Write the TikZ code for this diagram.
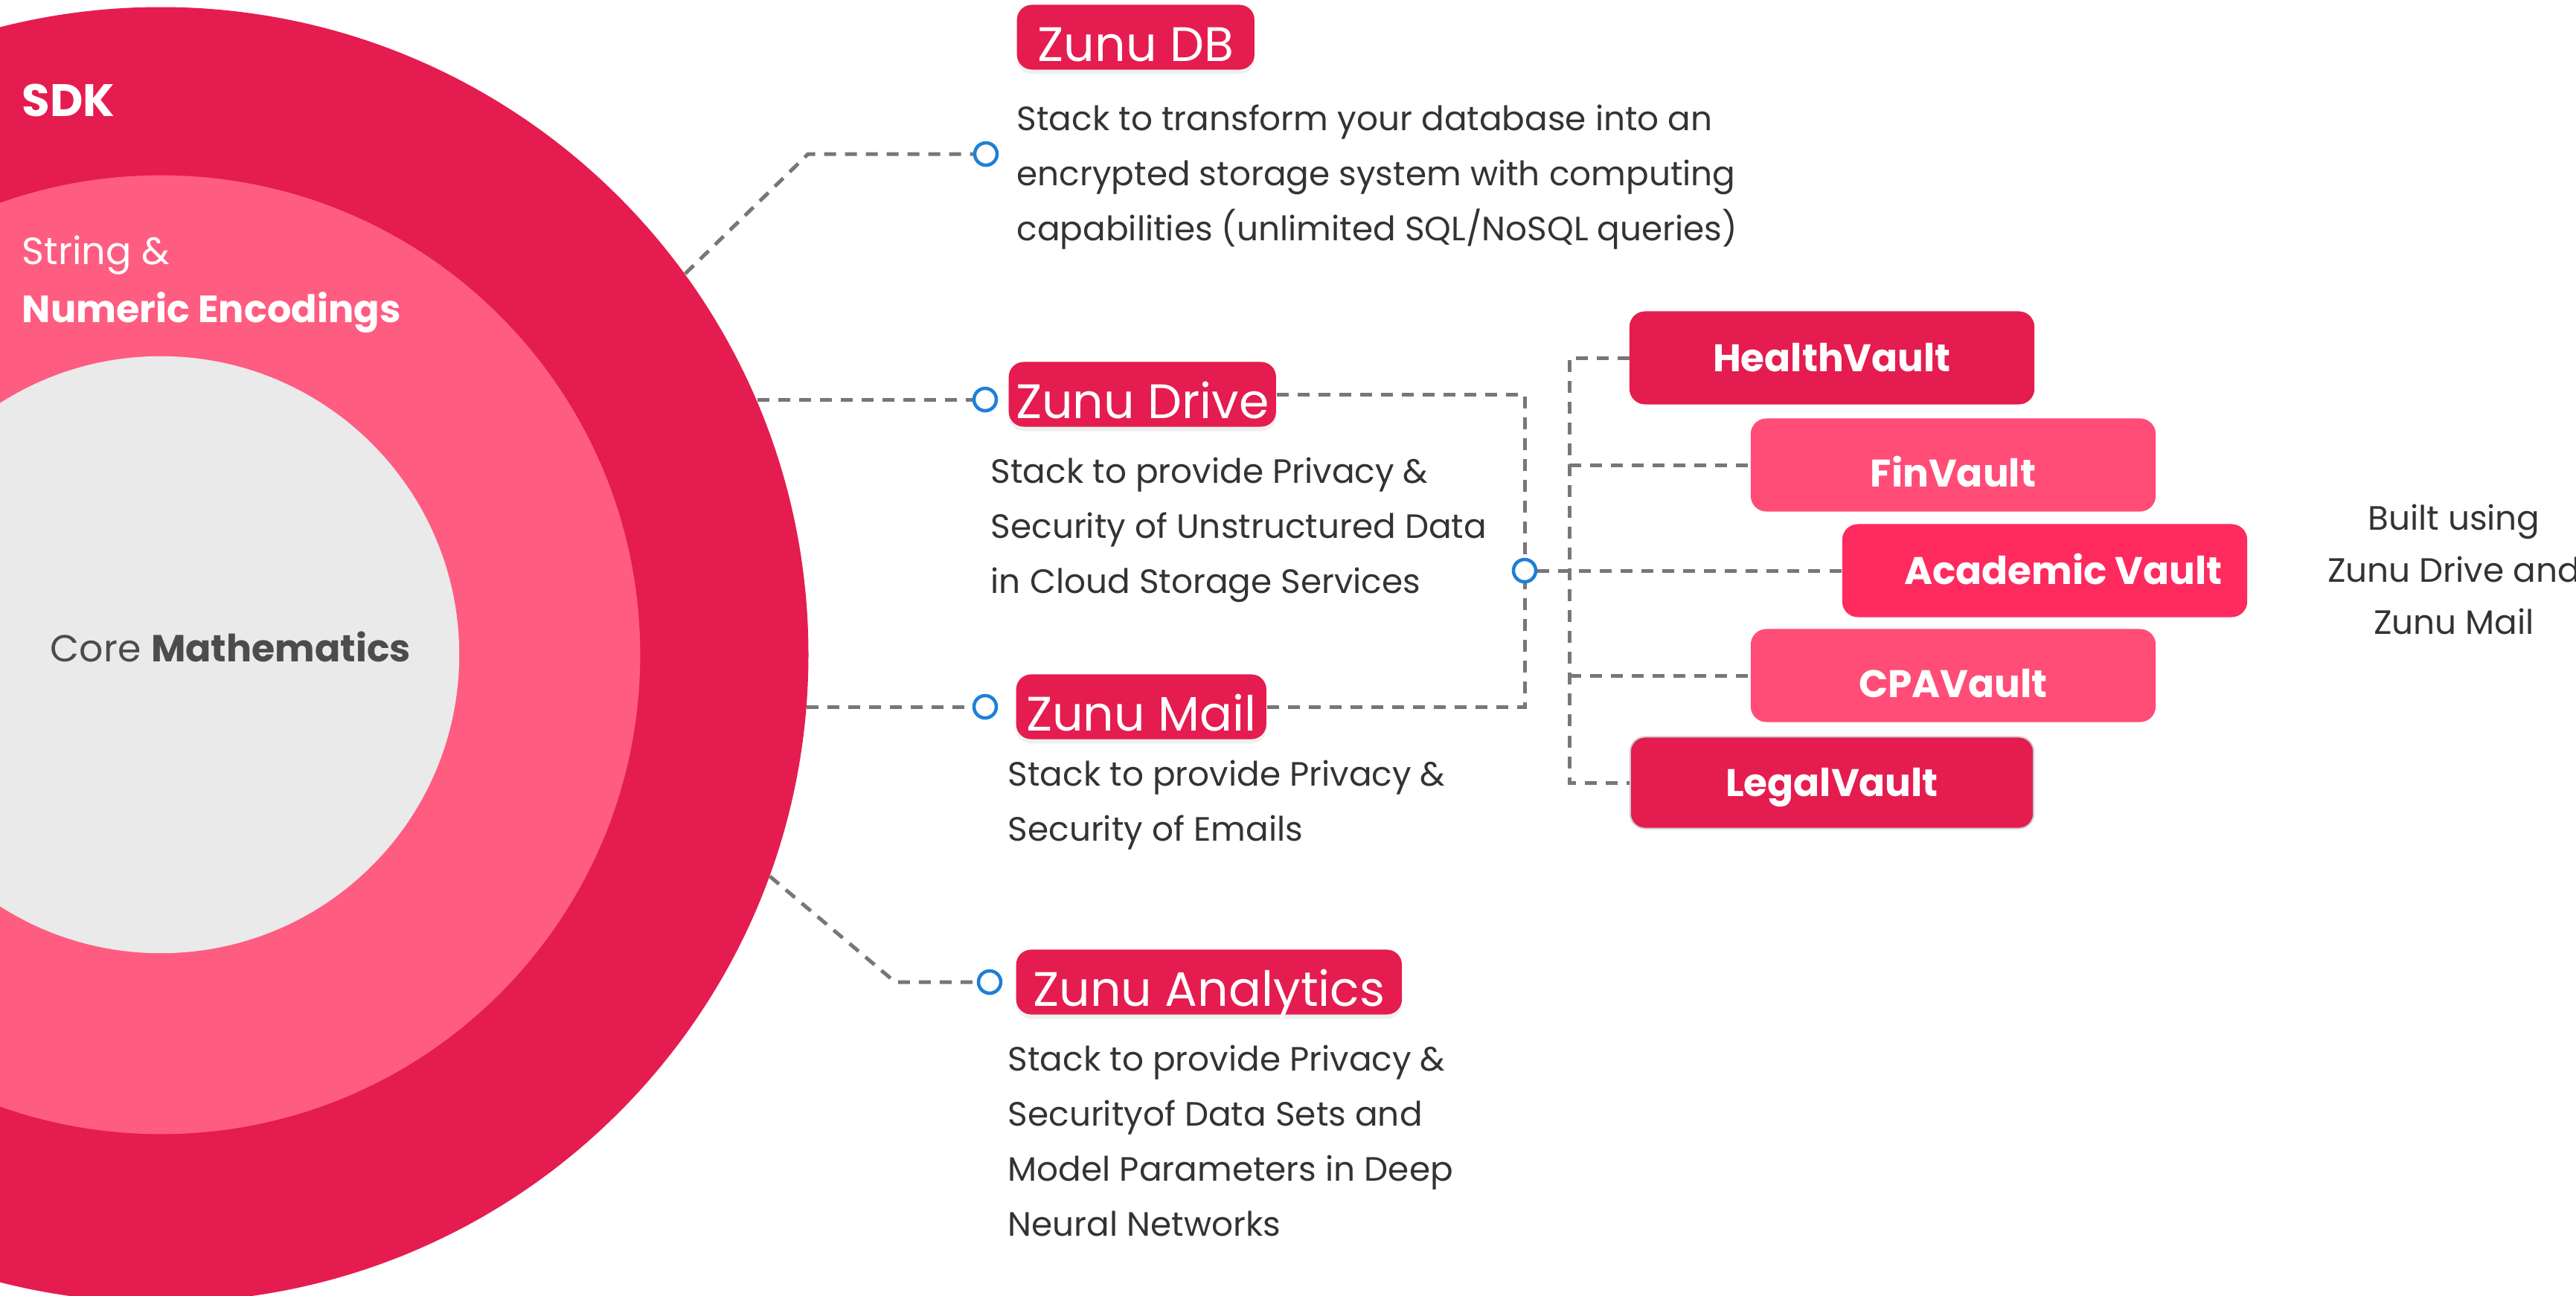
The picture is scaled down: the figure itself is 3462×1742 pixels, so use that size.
\documentclass[tikz,border=0pt]{standalone}
\usepackage{fontspec}
\setmainfont{Poppins}
\usepackage{tikz}
\usetikzlibrary{positioning,shadows}

\definecolor{ZunuRed}{HTML}{E51C4F}
\definecolor{ZunuPink}{HTML}{FF5C81}
\definecolor{VaultPink}{HTML}{FF4D78}
\definecolor{VaultRose}{HTML}{FF2A5E}
\definecolor{CoreGray}{HTML}{EAEAEA}
\definecolor{LinkGray}{HTML}{777777}
\definecolor{InkGray}{HTML}{333333}
\definecolor{PinBlue}{HTML}{1E7FD8}

\tikzset{
  zunu/.style={fill=ZunuRed, text=white, rounded corners=0.2cm,
    minimum height=0.87cm, inner xsep=0pt, inner ysep=0pt,
    text height=0.65cm, text depth=0cm,
    font=\fontsize{18.5}{20}\selectfont,
    drop shadow={opacity=0.12, shadow xshift=0cm, shadow yshift=-0.06cm}},
  desc/.style={text=InkGray, align=left, anchor=base west, inner sep=0pt,
    font=\fontsize{12.9}{21}\selectfont},
  vault/.style={rounded corners=0.2cm, text=white, minimum width=5.42cm,
    minimum height=1.23cm, line width=0.02cm, inner ysep=0pt, text depth=0cm,
    font=\bfseries\fontsize{14.7}{16}\selectfont},
  pin/.style={circle, draw=PinBlue, line width=0.045cm, fill=white,
    minimum size=0.3cm, inner sep=0pt,
    drop shadow={opacity=0.15, shadow xshift=0cm, shadow yshift=-0.03cm}},
  link/.style={draw=LinkGray, line width=0.05cm, dash pattern=on 0.16cm off 0.12cm},
}

\begin{document}
\begin{tikzpicture}[x=0.01cm, y=-0.01cm]
\useasboundingbox (0,0) rectangle (3462,1742);
\clip (0,0) rectangle (3462,1742);
% 同心円
\node[circle, fill=ZunuRed, minimum size=17.4cm, inner sep=0pt] (sdk) at (216,880) {};%SDK
\node[circle, fill=ZunuPink, minimum size=12.88cm, inner sep=0pt] (enc) at (216,880) {};%エンコード
\node[circle, fill=CoreGray, minimum size=8.02cm, inner sep=0pt] (core) at (216,880) {};%コア
\node[anchor=base west, inner sep=0pt, text=white, font=\bfseries\fontsize{17.4}{20}\selectfont] (sdklabel) at (29,156) {SDK};
\node[anchor=base west, inner sep=0pt, text=white, align=left, font=\fontsize{14.5}{22}\selectfont] (enclabel) at (29,433) {String \&\\\textbf{Numeric Encodings}};
\node[anchor=base west, inner sep=0pt, text=black!70, font=\fontsize{14.4}{18}\selectfont] (corelabel) at (67,889) {Core \textbf{Mathematics}};

% スタック
\node[zunu, minimum width=3.19cm, anchor=west] (db) at (1366,50) {Zunu DB};
\node[zunu, minimum width=3.59cm, anchor=west] (drive) at (1355,530) {Zunu Drive};
\node[zunu, minimum width=3.36cm, anchor=west] (mail) at (1365,950) {Zunu Mail};
\node[zunu, minimum width=5.18cm, anchor=west] (analytics) at (1365,1320) {Zunu Analytics};

% 説明文（baseは最終行）
\node[desc] (dbtext) at (1366,323) {Stack to transform your database into an\\encrypted storage system with computing\\capabilities (unlimited SQL/NoSQL queries)};
\node[desc] (drivetext) at (1331,797) {Stack to provide Privacy \&\\Security of Unstructured Data\\in Cloud Storage Services};
\node[desc] (mailtext) at (1354,1130) {Stack to provide Privacy \&\\Security of Emails};
\node[desc] (analyticstext) at (1354,1661) {Stack to provide Privacy \&\\Securityof Data Sets and\\Model Parameters in Deep\\Neural Networks};

\node[pin] (dbpin) at (1325,207) {};
\node[pin] (drivepin) at (1324,537) {};
\node[pin] (mailpin) at (1324,950) {};
\node[pin] (analyticspin) at (1330,1320) {};
\node[pin] (hub) at (2049,767) {};

% Vault
\foreach \name/\label/\x/\y/\col/\edge/\th in
  {health/HealthVault/2462/481/ZunuRed/ZunuRed/0.36,
   fin/FinVault/2625/625/VaultPink/VaultPink/0.58,
   academic/\hspace{0.5cm}Academic Vault/2748/767/VaultRose/VaultRose/0.36,
   cpa/CPAVault/2625/908/VaultPink/VaultPink/0.58,
   legal/LegalVault\hspace{0.3cm}/2462/1052/ZunuRed/gray!40/0.36}
  \node[vault, fill=\col, draw=\edge, text height=\th cm] (\name) at (\x,\y) {\label};

\node[text=InkGray, align=center, anchor=base, inner sep=0pt, font=\fontsize{12.9}{19.9}\selectfont] (builtnote) at (3298,852) {Built using\\Zunu Drive and\\Zunu Mail};

% 点線
\coordinate (dbbend) at (1086,207);
\coordinate (analyticsbend) at (1203,1320);
\coordinate (bus) at (2109,0);
\draw[link] (sdk.36) -- (dbbend) -- (dbpin);
\draw[link] (drivepin -| sdk.23) -- (drivepin);
\draw[link] (mailpin -| sdk.-5) -- (mailpin);
\draw[link] (sdk.-20) -- (analyticsbend) -- (analyticspin);
\draw[link] (drive.east) -| (hub.north);
\draw[link] (mail.east) -| (hub.south);
\draw[link] (hub.east) -- (academic.west);
\draw[link] (health.west) -- (health.west -| bus) -- (legal.west -| bus) -- (legal.west);
\foreach \name in {fin,cpa}
  \draw[link] (\name.west -| bus) -- (\name.west);
\end{tikzpicture}
\end{document}
